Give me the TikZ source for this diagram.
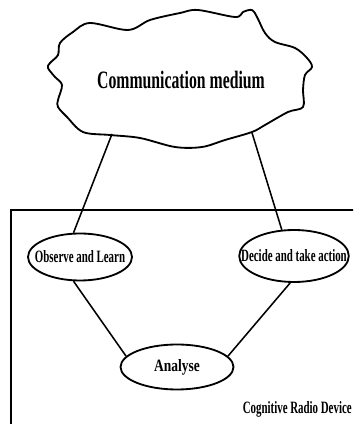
\documentclass[tikz,border=0pt]{standalone}
\usepackage{fontspec}
\usepackage{tikz}
\usetikzlibrary{shapes.geometric,positioning}

\newfontfamily\narrowserif{Liberation Serif}[FakeStretch=0.63]
\newfontfamily\roundserif{Liberation Serif}[FakeStretch=0.78]

\begin{document}
\begin{tikzpicture}[
  stage/.style={ellipse, draw=black, line width=1.3pt, inner ysep=0pt, inner xsep=-10pt, text centered, font=\narrowserif\bfseries\fontsize{12.3}{14}\selectfont},
  link/.style={line width=1.1pt},
  cloudline/.style={line width=1.3pt, line join=round}
]

\useasboundingbox (0,0) rectangle (8.825,10.6);

% Device frame
\begin{scope}
\clip (0,0) rectangle (8.825,10.6);
\draw[line width=1.8pt] (0.275,-1) -- (0.275,5.35) -- (9.5,5.35);
\end{scope}

% Communication medium
\draw[cloudline] plot[smooth cycle, tension=0.55] coordinates {
  (1.825,9.8) (2.25,10.025) (3.2,9.85) (3.75,10.1) (4.5,10.275) (4.95,10.35)
  (5.875,10.175) (6.075,10.3) (6.3,10.35) (6.425,10.175) (6.625,9.775)
  (6.875,9.55) (7.375,9.4) (7.675,9.15) (7.8,8.925) (7.625,8.725)
  (7.575,8.35) (7.575,7.925) (7.2,7.8) (6.625,7.475) (6.3,7.3)
  (5.625,7.1) (5.05,6.925) (4.375,6.925) (3.5,7.15) (2.75,7.225)
  (2.075,7.3) (1.675,7.675) (1.45,7.925) (1.45,8.1) (1.55,8.475)
  (1.375,8.675) (1.2,8.9) (1.25,9.025) (1.45,9.225) (1.5,9.525)};
\node[font=\narrowserif\bfseries\fontsize{17.8}{20}\selectfont] (medium) at (4.525,8.6) {Communication medium};
\coordinate (cloudL) at (2.8,7.25);
\coordinate (cloudR) at (6.3,7.28);

% Cognitive cycle
\node[stage, minimum width=2.6cm, minimum height=1.175cm] (observe) at (2.0,4.175) {Observe and Learn};
\node[stage, minimum width=2.7cm, minimum height=1.3cm] (decide) at (7.35,4.2) {Decide and take action};
\node[stage, minimum width=2.825cm, minimum height=1.125cm, font=\roundserif\bfseries\fontsize{12.3}{14}\selectfont] (analyse) at (4.425,1.425) {Analyse};

% Connections
\draw[link] (cloudL) -- (observe.105);
\draw[link] (cloudR) -- (decide.115);
\draw[link] (observe.255) -- (analyse.168);
\draw[link] (decide.262) -- (analyse.12);

% Device label
\node[anchor=base east, inner sep=0pt, font=\narrowserif\bfseries\fontsize{12.3}{14}\selectfont] (device) at (8.8,0.27) {Cognitive Radio Device};

\end{tikzpicture}
\end{document}
